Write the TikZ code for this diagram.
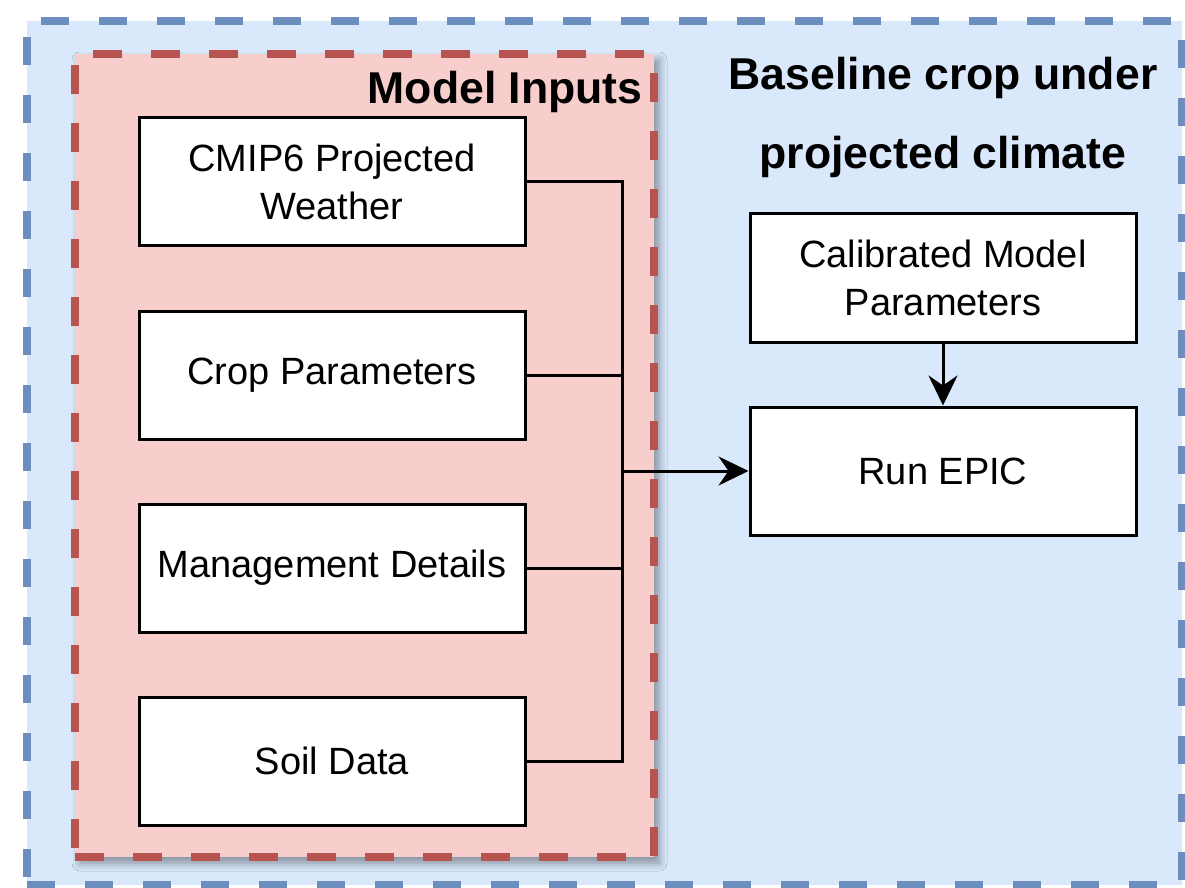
\documentclass[tikz,border=0pt]{standalone}
\usepackage{fontspec}
\setmainfont{Liberation Sans}
\usetikzlibrary{arrows.meta,shadows.blur}
\definecolor{bluefill}{HTML}{DAE8FC}
\definecolor{bluedraw}{HTML}{6C8EBF}
\definecolor{redfill}{HTML}{F8CECC}
\definecolor{reddraw}{HTML}{B85450}
\tikzset{
  outerbox/.style={draw=bluedraw, fill=bluefill, line width=4.3pt, dash pattern=on 14pt off 15pt, minimum width=577.5pt, minimum height=432pt, inner sep=0pt},
  inputbox/.style={draw=reddraw, fill=redfill, line width=4.3pt, dash pattern=on 14.5pt off 14.5pt, minimum width=289.5pt, minimum height=401.5pt, inner sep=0pt,
     blur shadow={shadow xshift=2.5pt, shadow yshift=-3pt, shadow blur steps=8, shadow blur radius=4pt, shadow opacity=40}},
  procbox/.style={draw=black, fill=white, line width=1.5pt, minimum width=193pt, minimum height=64pt, align=center, inner sep=0pt,
     font=\fontsize{19}{24}\selectfont},
  title/.style={font=\bfseries\fontsize{22.3}{39.5}\selectfont, inner sep=0pt, align=center},
  link/.style={draw=black, line width=1.5pt},
  arrowlink/.style={link, -{Stealth[length=15pt, width=14.5pt, inset=5pt]}},
}
\begin{document}
\begin{tikzpicture}[x=0.5pt, y=-0.5pt]
\useasboundingbox (0,0) rectangle (1185,888);
\node[outerbox] (outer) at (604.5,453) {};
\node[inputbox] (inputs) at (364.5,455.5) {};
\node[title, anchor=base east] (inputstitle) at (643,104) {Model Inputs};
\node[title, anchor=north] (maintitle) at (943,57) {Baseline crop under\\projected climate};
\node[procbox] (cmip) at (332,182) {CMIP6 Projected\\Weather};
\node[procbox] (crop) at (332,375) {Crop Parameters};
\node[procbox] (mgmt) at (332,568) {Management Details};
\node[procbox] (soil) at (332,761) {Soil Data};
\node[procbox] (calib) at (943,278) {Calibrated Model\\Parameters};
\node[procbox] (run) at (943,471) {Run EPIC};
\coordinate (join) at (622,471);
\draw[link] (cmip.east) -| (join);
\draw[link] (crop.east) -| (join);
\draw[link] (mgmt.east) -| (join);
\draw[link] (soil.east) -| (join);
\draw[arrowlink] (join) -- (run.west);
\draw[arrowlink] (calib.south) -- (run.north);
\end{tikzpicture}
\end{document}
